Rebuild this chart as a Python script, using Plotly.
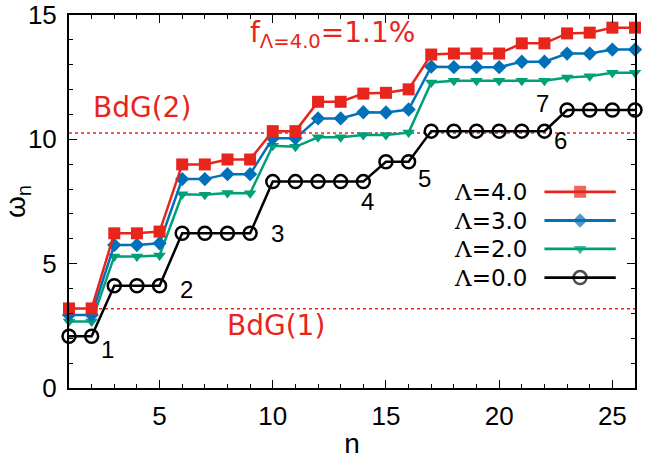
import plotly.graph_objects as go

n = list(range(1, 27))
w_l4 = [3.20, 3.20, 6.22, 6.22, 6.29, 8.99, 8.99, 9.19, 9.19, 10.33, 10.33, 11.51, 11.51,
        11.84, 11.87, 12.01, 13.41, 13.45, 13.45, 13.45, 13.86, 13.86, 14.26, 14.29, 14.49, 14.49]
w_l3 = [2.94, 2.94, 5.75, 5.75, 5.82, 8.40, 8.40, 8.60, 8.60, 10.04, 10.04, 10.84, 10.84,
        11.09, 11.08, 11.20, 12.92, 12.90, 12.90, 12.90, 13.12, 13.12, 13.45, 13.45, 13.61, 13.61]
w_l2 = [2.67, 2.67, 5.29, 5.29, 5.33, 7.79, 7.77, 7.84, 7.83, 9.74, 9.70, 10.08, 10.08,
        10.17, 10.17, 10.27, 12.29, 12.36, 12.36, 12.36, 12.36, 12.36, 12.49, 12.54, 12.68, 12.68]
w_l0 = [2.08, 2.08, 4.11, 4.11, 4.11, 6.22, 6.22, 6.22, 6.22, 8.30, 8.30, 8.30, 8.30,
        8.30, 9.10, 9.10, 10.33, 10.33, 10.33, 10.33, 10.33, 10.33, 11.18, 11.18, 11.18, 11.18]

series_values = ["4.0", "3.0", "2.0", "0.0"]
bdg_levels = [3.19, 10.25]
bdg_labels = ["BdG(1)", "BdG(2)"]
level_labels = ["1", "2", "3", "4", "5", "6", "7"]
level_label_x = [2.7, 6.2, 10.2, 14.2, 16.7, 22.7, 21.9]
level_label_y = [1.53, 3.98, 6.23, 7.49, 8.44, 9.97, 11.44]

RED = "#e8251c"
BLUE = "#0071b8"
GREEN = "#00a077"
BLACK = "#000000"
FONT = "Liberation Sans"
WIDE = "DejaVu Sans"
SERIF = "DejaVu Serif"

styles = [
    dict(color=RED, symbol="square", size=12, mline=0, mcolor=RED),
    dict(color=BLUE, symbol="diamond", size=11, mline=0, mcolor=BLUE),
    dict(color=GREEN, symbol="triangle-down", size=11, mline=0, mcolor=GREEN),
    dict(color=BLACK, symbol="circle-open", size=13, mline=2.5, mcolor=BLACK),
]
data = [w_l4, w_l3, w_l2, w_l0]

fig = go.Figure()

for lvl in bdg_levels:
    fig.add_shape(type="line", xref="paper", x0=0, x1=1, yref="y", y0=lvl, y1=lvl,
                  line=dict(color=RED, width=1.5, dash="dot"), layer="below")

for ys, st, v in zip(data[::-1], styles[::-1], series_values[::-1]):
    fig.add_trace(go.Scatter(
        x=n, y=ys, mode="lines+markers", name="Λ=" + v, showlegend=False,
        line=dict(color=st["color"], width=2.5),
        marker=dict(symbol=st["symbol"], size=st["size"], color=st["mcolor"],
                    line=dict(width=st["mline"], color=st["mcolor"])),
        cliponaxis=False,
    ))

# custom gnuplot-style legend (text left, sample right), in paper-fraction units
leg_y = [0.526, 0.449, 0.373, 0.296]
for v, st, yy in zip(series_values, styles, leg_y):
    fig.add_trace(go.Scatter(
        x=[0.840, 0.903, 0.966], y=[yy, yy, yy], xaxis="x2", yaxis="y2",
        mode="lines+markers", showlegend=False, hoverinfo="skip",
        line=dict(color=st["color"], width=2.8),
        marker=dict(symbol=st["symbol"], size=[0, st["size"], 0], color=st["mcolor"],
                    line=dict(width=st["mline"], color=st["mcolor"])),
    ))
    fig.add_annotation(xref="paper", yref="paper", x=0.812, y=yy,
                       text=f"<span style='font-family:{SERIF}'>Λ</span>={v}",
                       showarrow=False, xanchor="right", yanchor="middle",
                       font=dict(family=WIDE, size=23, color="black"))

for t, x, y in zip(level_labels, level_label_x, level_label_y):
    fig.add_annotation(x=x, y=y, text=t, showarrow=False, xanchor="center", yanchor="middle",
                       font=dict(family=FONT, size=24, color="black"))

fig.add_annotation(x=1.95, y=11.3, text=bdg_labels[1], showarrow=False, xanchor="left",
                   yanchor="middle", font=dict(family=WIDE, size=28, color=RED))
fig.add_annotation(x=7.9, y=2.5, text=bdg_labels[0], showarrow=False, xanchor="left",
                   yanchor="middle", font=dict(family=WIDE, size=28, color=RED))
fig.add_annotation(x=8.9, y=14.2, text="f<sub>Λ=4.0</sub>=1.1%", showarrow=False,
                   xanchor="left", yanchor="middle", font=dict(family=WIDE, size=28, color=RED))

axis_common = dict(showline=True, linecolor="black", linewidth=2, mirror="ticks",
                   ticks="inside", ticklen=8, tickwidth=1.2, tickcolor="black",
                   showgrid=False, zeroline=False, automargin=False,
                   tickfont=dict(family=FONT, size=26, color="black"))

fig.update_layout(
    template="none",
    width=656, height=459,
    margin=dict(l=69, r=21, t=15, b=71),
    plot_bgcolor="white", paper_bgcolor="white",
    xaxis=dict(range=[1, 26], tick0=0, dtick=5, ticklabelstandoff=4,
               minor=dict(dtick=1, ticks="inside", ticklen=4, tickcolor="black", tickwidth=1),
               title=dict(text="n", font=dict(family=FONT, size=28, color="black")),
               **axis_common),
    yaxis=dict(range=[0, 15], tick0=0, dtick=5, ticklabelstandoff=5,
               minor=dict(dtick=1, ticks="inside", ticklen=4, tickcolor="black", tickwidth=1),
               title=dict(text="ω<sub>n</sub>", font=dict(family=FONT, size=28, color="black")),
               **axis_common),
    xaxis2=dict(range=[0, 1], overlaying="x", visible=False),
    yaxis2=dict(range=[0, 1], overlaying="y", visible=False),
    showlegend=False,
)

fig.write_html("out.html", config={"displayModeBar": False},
               post_script="document.body.style.margin='0';document.body.style.padding='0';")
